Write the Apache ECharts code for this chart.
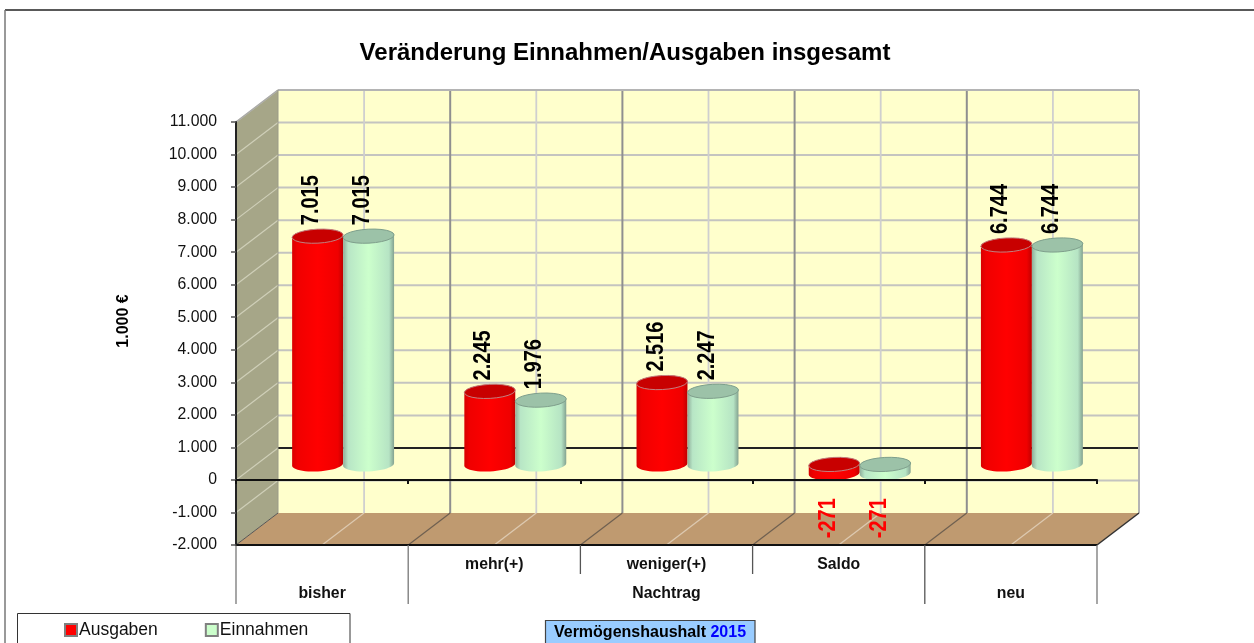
<!DOCTYPE html>
<html>
<head>
<meta charset="utf-8">
<style>html,body{margin:0;padding:0;background:#fff}#c{width:1254px;height:643px}</style>
<script src="https://cdn.jsdelivr.net/npm/echarts@6/dist/echarts.min.js"></script>
</head>
<body>
<div id="c"></div>
<script>
const categories = ['bisher', 'mehr(+)', 'weniger(+)', 'Saldo', 'neu'];
const innerLabels = ['', 'mehr(+)', 'weniger(+)', 'Saldo', ''];
const outerLabels = ['bisher', 'Nachtrag', 'neu'];
const outerSpans = [[0, 0], [1, 3], [4, 4]];
const ausgaben = [7015, 2245, 2516, -271, 6744];
const einnahmen = [7015, 1976, 2247, -271, 6744];
const yMin = -2000, yMax = 11000, yStep = 1000;
const FONT = '"Liberation Sans", Arial, sans-serif';
const DX = 42, DY = -32;           // depth of the 3D box in pixels
const MX = 21, MY = -15.5;         // cylinders stand in the middle of the depth
const RX = 25.5, RY = 7, TILT = -3 * Math.PI / 180;

function fmt(v) {
  return String(v).replace(/\B(?=(\d{3})+$)/g, '.');
}
function line(x1, y1, x2, y2, stroke, lineWidth) {
  return { type: 'line', shape: { x1, y1, x2, y2 }, style: { stroke, lineWidth }, silent: true };
}
function poly(points, fill) {
  return { type: 'polygon', shape: { points }, style: { fill }, silent: true };
}
function renderBox(params, api) {
  const band = api.size([1, 0])[0];
  const edge = i => api.coord([0, 0])[0] + (i - 0.5) * band;
  const y = v => api.coord([0, v])[1];
  const n = categories.length;
  const L = edge(0), R = edge(n), T = y(yMax), B = y(yMin);
  const ch = [];
  // back wall, side wall, floor
  ch.push(poly([[L + DX, T + DY], [R + DX, T + DY], [R + DX, B + DY], [L + DX, B + DY]], '#ffffcc'));
  ch.push(poly([[L, T], [L + DX, T + DY], [L + DX, B + DY], [L, B]], '#a6a688'));
  ch.push(poly([[L, B], [L + DX, B + DY], [R + DX, B + DY], [R, B]], '#bf9a70'));
  // horizontal gridlines
  for (let v = yMin; v <= yMax; v += yStep) {
    if (v === 0 || v === yMin) continue;
    ch.push(line(L, y(v), L + DX, y(v) + DY, '#cfcfb8', 1.2));
    ch.push(line(L + DX, y(v) + DY, R + DX, y(v) + DY, '#c4c4c0', 2));
  }
  ch.push(line(L, y(0), L + DX, y(0) + DY, '#cfcfb8', 1.2));
  // vertical gridlines and floor lines
  for (let i = 0; i < n; i++) {
    const c = edge(i + 0.5);
    ch.push(line(c + DX, T + DY, c + DX, B + DY, '#cfcfcf', 1.8));
    ch.push(line(c, B, c + DX, B + DY, '#ddc9b0', 1.3));
    if (i > 0) {
      const e = edge(i);
      ch.push(line(e + DX, T + DY, e + DX, B + DY, '#8f8f8f', 2));
      ch.push(line(e, B, e + DX, B + DY, '#6f6050', 1.2));
    }
  }
  ch.push(line(L + DX, y(0) + DY, R + DX, y(0) + DY, '#222', 2));
  // box outline
  ch.push(line(L, T, L + DX, T + DY, '#aaa', 1.5));
  ch.push(line(L + DX, T + DY, R + DX, T + DY, '#b4b4b4', 2));
  ch.push(line(R + DX, T + DY, R + DX, B + DY, '#b4b4b4', 2));
  ch.push(line(L + DX, T + DY, L + DX, B + DY, '#9a9a88', 1));
  ch.push(line(R, B, R + DX, B + DY, '#333', 1.5));
  ch.push(line(L, B, L + DX, B + DY, '#555', 1));
  ch.push(line(L, B, R, B, '#111', 2));
  // category levels under the floor
  const sepInner = 29, sepOuter = 59;
  for (let i = 0; i <= n; i++) {
    const outer = outerSpans.some(s => s[0] === i) || i === n;
    ch.push(line(edge(i), B, edge(i), B + (outer ? sepOuter : sepInner), i === n || i === 0 || i === 1 ? '#777' : '#555', 1.3));
  }
  innerLabels.forEach((t, i) => {
    if (t) ch.push({ type: 'text', x: edge(i + 0.5), y: B + 20, silent: true,
      style: { text: t, font: 'bold 15.8px ' + FONT, fill: '#111', align: 'center', verticalAlign: 'middle' } });
  });
  outerLabels.forEach((t, k) => {
    const c = (edge(outerSpans[k][0]) + edge(outerSpans[k][1] + 1)) / 2;
    ch.push({ type: 'text', x: c, y: B + 49, silent: true,
      style: { text: t, font: 'bold 15.8px ' + FONT, fill: '#111', align: 'center', verticalAlign: 'middle' } });
  });
  return { type: 'group', children: ch };
}
function ellipsePts(cx, cy, from, to) {
  const pts = [], steps = 24;
  for (let k = 0; k <= steps; k++) {
    const t = from + (to - from) * k / steps;
    pts.push([
      cx + RX * Math.cos(t) * Math.cos(TILT) - RY * Math.sin(t) * Math.sin(TILT),
      cy + RX * Math.cos(t) * Math.sin(TILT) + RY * Math.sin(t) * Math.cos(TILT)
    ]);
  }
  return pts;
}
function cylinder(side, body, topFill, topStroke) {
  return function (params, api) {
    const i = api.value(0), v = api.value(1);
    const cx = api.coord([i, 0])[0] + MX + side * RX;
    const y0 = api.coord([i, 0])[1] + MY, yv = api.coord([i, v])[1] + MY;
    const up = Math.min(y0, yv), low = Math.max(y0, yv);
    const pts = ellipsePts(cx, low, 0, Math.PI).concat(ellipsePts(cx, up, Math.PI, 2 * Math.PI));
    const fill = { type: 'linear', x: 0, y: 0, x2: 1, y2: 0,
      colorStops: body.map((c, k) => ({ offset: [0, 0.1, 0.5, 0.9, 1][k], color: c })) };
    const labelY = v >= 0 ? yv - 36 : yv + 45;
    return { type: 'group', children: [
      { type: 'polygon', shape: { points: pts }, style: { fill } },
      { type: 'polygon', shape: { points: ellipsePts(cx, up, 0, 2 * Math.PI) }, style: { fill: topFill, stroke: topStroke, lineWidth: 1 } },
      { type: 'text', x: cx - 6, y: labelY, rotation: Math.PI / 2, scaleY: 1.18,
        style: { text: fmt(v), font: 'bold 20px ' + FONT, fill: v < 0 ? '#ff0000' : '#000',
                 align: 'center', verticalAlign: 'middle' } }
    ] };
  };
}
const RED = ['#d80000', '#f00000', '#ff0000', '#f00000', '#c00000'];
const GREEN = ['#8fae9a', '#b8e6c6', '#ccffcc', '#b6e4c4', '#84a290'];
const pairs = a => a.map((v, i) => [i, v]);
const chart = echarts.init(document.getElementById('c'), null, { renderer: 'canvas' });
chart.setOption({
  animation: false,
  backgroundColor: '#fff',
  title: {
    text: 'Veränderung Einnahmen/Ausgaben insgesamt',
    left: 620, top: 36, textAlign: 'center',
    textStyle: { fontFamily: FONT, fontWeight: 'bold', fontSize: 24, color: '#000' }
  },
  grid: { left: 236, right: 157, top: 122, bottom: 98 },
  xAxis: {
    type: 'category', data: categories, z: 5,
    axisLine: { onZero: true, lineStyle: { color: '#111', width: 2 } },
    axisTick: { show: true, length: 4, lineStyle: { color: '#111', width: 2 } },
    axisLabel: { show: false }, splitLine: { show: false }
  },
  yAxis: {
    type: 'value', min: yMin, max: yMax, interval: yStep, z: 5,
    axisLine: { show: true, lineStyle: { color: '#222', width: 2 } },
    axisTick: { show: true, length: 5, lineStyle: { color: '#555', width: 1.5 } },
    axisLabel: { margin: 19, padding: [5, 0, 0, 0], fontFamily: FONT, fontSize: 15.8, color: '#111', formatter: fmt },
    splitLine: { show: false }
  },
  legend: {
    left: 59, top: 616, itemWidth: 12, itemHeight: 12, itemGap: 47, icon: 'rect',
    data: ['Ausgaben', 'Einnahmen'],
    textStyle: { fontFamily: FONT, fontSize: 17.5, color: '#111', padding: [0, 0, 0, -3] }
  },
  graphic: [
    { type: 'line', z: 0, shape: { x1: 5, y1: 10, x2: 1254, y2: 10 }, style: { stroke: '#222', lineWidth: 1.5 } },
    { type: 'line', z: 0, shape: { x1: 5, y1: 10, x2: 5, y2: 643 }, style: { stroke: '#777', lineWidth: 1.5 } },
    { type: 'rect', z: 0, shape: { x: 17.5, y: 613.5, width: 332.5, height: 40 }, style: { fill: '#fff', stroke: '#333', lineWidth: 1 } },
    { type: 'rect', z: 0, shape: { x: 545.5, y: 620.5, width: 209.5, height: 40 }, style: { fill: '#99ccff', stroke: '#444', lineWidth: 1.2 } },
    { type: 'text', z: 1, x: 650, y: 633, style: {
        text: '{a|Vermögenshaushalt }{b|2015}', align: 'center', verticalAlign: 'middle',
        rich: { a: { fontSize: 16, fontWeight: 'bold', fontFamily: FONT, fill: '#000', color: '#000' },
                b: { fontSize: 16, fontWeight: 'bold', fontFamily: FONT, fill: '#0000ff', color: '#0000ff' } } } },
    { type: 'text', z: 1, x: 124, y: 321, rotation: Math.PI / 2, style: {
        text: '1.000 €', font: 'bold 16px ' + FONT, fill: '#000', align: 'center', verticalAlign: 'middle' } }
  ],
  series: [
    { type: 'custom', name: 'Rahmen', z: 1, silent: true, data: [[0, 0]],
      encode: { x: 0, y: 1 }, renderItem: renderBox },
    { type: 'custom', name: 'Ausgaben', z: 2, data: pairs(ausgaben), encode: { x: 0, y: 1 },
      itemStyle: { color: '#ff0000', borderColor: '#808080', borderWidth: 2 },
      renderItem: cylinder(-1, RED, '#c80000', '#c08080') },
    { type: 'custom', name: 'Einnahmen', z: 3, data: pairs(einnahmen), encode: { x: 0, y: 1 },
      itemStyle: { color: '#ccffcc', borderColor: '#808080', borderWidth: 2 },
      renderItem: cylinder(1, GREEN, '#9cc2a8', '#7f9f8c') }
  ]
});
</script>
</body>
</html>
